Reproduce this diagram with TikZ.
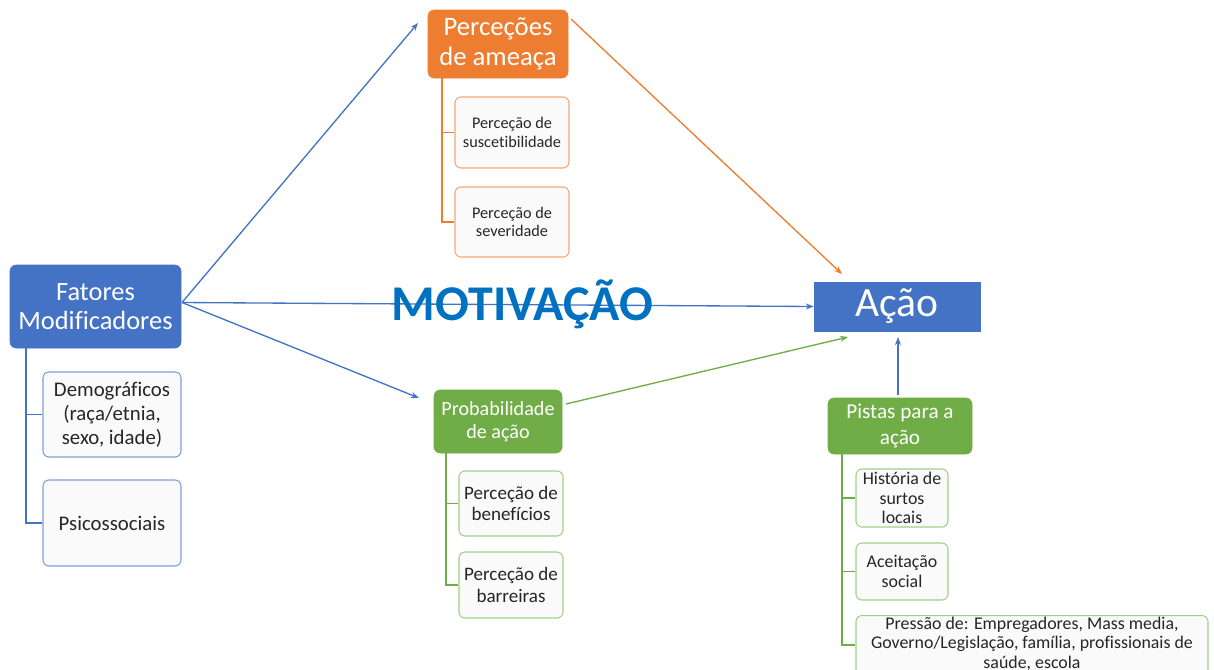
\documentclass[tikz,border=0pt]{standalone}
\usepackage{fontspec}
\setmainfont{Carlito}[Ligatures=NoCommon]
\usetikzlibrary{arrows.meta}
\definecolor{cblue}{HTML}{4472C4}
\definecolor{corange}{HTML}{ED7D31}
\definecolor{cgreen}{HTML}{70AD47}
\definecolor{cmot}{HTML}{0070C0}
\definecolor{lblue}{HTML}{7F9FD8}
\definecolor{lorange}{HTML}{F2A878}
\definecolor{lgreen}{HTML}{A3CF88}
\definecolor{ctext}{HTML}{262626}
\begin{document}
\begin{tikzpicture}[x=0.75pt,y=-0.75pt,
  mainbox/.style={rounded corners=4.5pt, text=white, align=center, inner sep=0pt, draw=#1, fill=#1},
  subbox/.style={rounded corners=4.5pt, align=center, inner sep=0pt, draw=#1, line width=0.8pt, fill=black!2, text=ctext},
  tree/.style={draw=#1, line width=0.9pt},
  conn/.style={draw=#1, line width=1pt, -{Stealth[length=6pt,width=4.5pt]}},
  ]
\clip (0,0) rectangle (1214,669);
\fill[white] (0,0) rectangle (1214,669);

% Fatores
\node[mainbox=cblue, minimum width=128.25pt, minimum height=62.25pt, font=\fontsize{19.8pt}{21.75pt}\selectfont] (fat) at (95.5,306.5) {Fatores\\Modificadores};
\node[subbox=lblue, minimum width=103.5pt, minimum height=63.75pt, font=\fontsize{15.6pt}{18pt}\selectfont] (dem) at (112,414.5) {Demográficos\\(raça/etnia,\\sexo, idade)};
\node[subbox=lblue, minimum width=103.5pt, minimum height=64.5pt, font=\fontsize{15.6pt}{18pt}\selectfont] (psi) at (112,523) {Psicossociais};
\draw[tree=cblue] (fat.south -| 26,0) |- (dem.west);
\draw[tree=cblue] (fat.south -| 26,0) |- (psi.west);

% Perceções de ameaça
\node[mainbox=corange, minimum width=105pt, minimum height=51pt, font=\fontsize{20pt}{22.5pt}\selectfont] (per) at (498,44) {Perceções\\de ameaça};
\node[subbox=lorange, minimum width=85.5pt, minimum height=53.25pt, font=\fontsize{12.2pt}{14pt}\selectfont] (sus) at (512,132.5) {Perceção de\\suscetibilidade};
\node[subbox=lorange, minimum width=85.5pt, minimum height=52.5pt, font=\fontsize{12.2pt}{14pt}\selectfont] (sev) at (512,222) {Perceção de\\severidade};
\draw[tree=corange] (per.south -| 442,0) |- (sus.west);
\draw[tree=corange] (per.south -| 442,0) |- (sev.west);

% Probabilidade de ação
\node[mainbox=cgreen, minimum width=96pt, minimum height=47.25pt, font=\fontsize{15.1pt}{17.5pt}\selectfont] (pro) at (498,421.5) {Probabilidade\\de ação};
\node[subbox=lgreen, minimum width=78pt, minimum height=48.75pt, font=\fontsize{14.3pt}{16pt}\selectfont] (ben) at (511,503.5) {Perceção de\\benefícios};
\node[subbox=lgreen, minimum width=78pt, minimum height=49.5pt, font=\fontsize{14.3pt}{16pt}\selectfont] (bar) at (511,585) {Perceção de\\barreiras};
\draw[tree=cgreen] (pro.south -| 446,0) |- (ben.west);
\draw[tree=cgreen] (pro.south -| 446,0) |- (bar.west);

% Ação
\node[fill=cblue, draw=cblue, text=white, inner sep=0pt, minimum width=124.5pt, minimum height=36.75pt, font=\fontsize{31.2pt}{34pt}\selectfont] (aca) at (897,306.5) {Ação};

% Pistas para a ação
\node[mainbox=cgreen, minimum width=108pt, minimum height=42pt, font=\fontsize{15.9pt}{20pt}\selectfont] (pis) at (900,426) {Pistas para a\\ação};
\node[subbox=lgreen, minimum width=69pt, minimum height=43.5pt, font=\fontsize{13.4pt}{14.5pt}\selectfont] (his) at (902,498) {História de\\surtos\\locais};
\node[subbox=lgreen, minimum width=69pt, minimum height=42.75pt, font=\fontsize{13.4pt}{14.5pt}\selectfont] (ace) at (902,571.5) {Aceitação\\social};
\node[subbox=lgreen, anchor=north, minimum width=264pt, minimum height=52pt, font=\fontsize{13.4pt}{14.6pt}\selectfont] (pre) at (1032,615) {\strut Pressão de: Empregadores, Mass media,\\Governo/Legislação, família, profissionais de\\saúde, escola\strut\\[18pt]};
\coordinate (prew) at (pre.west |- 0,645);
\draw[tree=cgreen] (pis.south -| 842,0) |- (his.west);
\draw[tree=cgreen] (pis.south -| 842,0) |- (ace.west);
\draw[tree=cgreen] (pis.south -| 842,0) |- (prew);

% connectors
\coordinate (fs) at (182,302.5);
\coordinate (tper) at (418,23);
\coordinate (tpro) at (419,398);
\coordinate (os) at (571,19);
\coordinate (ot) at (842,274);
\coordinate (gs) at (566,404);
\coordinate (gt) at (848,337);
\coordinate (ps) at (898,395);
\coordinate (pt) at (898,337);

\draw[conn=cblue] (fs) -- (tper);
\draw[conn=cblue] (fs) -- (tpro);
\draw[conn=cblue] (fs) -- (aca.west);
\draw[conn=corange] (os) -- (ot);
\draw[conn=cgreen] (gs) -- (gt);
\draw[conn=cblue] (ps) -- (pt);

\node[anchor=base, text=cmot, font=\fontsize{37.5pt}{40pt}\selectfont\bfseries, inner sep=0pt] (mot) at (522.5,320) {MOTIVAÇÃO};
\end{tikzpicture}
\end{document}
